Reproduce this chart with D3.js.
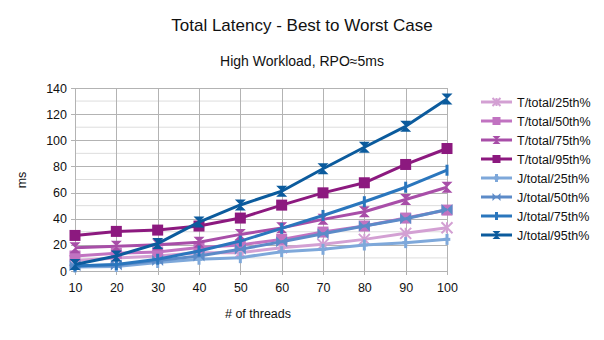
<!DOCTYPE html>
<html><head><meta charset="utf-8">
<script src="https://cdn.jsdelivr.net/npm/d3@7"></script>
<style>body{margin:0;background:#fff}svg{display:block;font-family:"Liberation Sans",Arial,sans-serif}</style>
</head><body><svg id="c" width="604" height="340"></svg>
<script>
const threads = [10,20,30,40,50,60,70,80,90,100];
const seriesNames = ["T/total/25th%","T/total/50th%","T/total/75th%","T/total/95th%","J/total/25th%","J/total/50th%","J/total/75th%","J/total/95th%"];
const t25 = [8,10,11.5,14,14,17.8,20.4,24.2,28.8,33.1];
const t50 = [11.5,13.5,14.5,18,19.9,24.2,29.8,34.4,40.5,46.6];
const t75 = [17.8,19,20,22,28,33,39.5,45.3,54.7,64.1];
const t95 = [27.2,30.3,31.3,34.4,40.5,50.4,59.8,67.5,81.5,93.7];
const j25 = [3,3.5,6.5,9,10.2,14.8,16.6,19.9,21.7,24.2];
const j50 = [4,4.5,8,11.5,16.6,22.4,28.5,34.4,40,47];
const j75 = [3.8,5,9,15.3,22.9,32.6,42.5,53,64.1,77.1];
const j95 = [5,11.5,21,37.4,50.5,61,78.2,94.7,110.7,131.6];
const values = [t25,t50,t75,t95,j25,j50,j75,j95];
const yTicks = [0,20,40,60,80,100,120,140];

const colors = ["#d3a0d3","#c173c1","#a84ea8","#8c197f","#7ea8da","#5c8bc8","#2a76bd","#0b5b9d"];
const markers = ["asterisk","square","hourglass","square","plus","bowtie","vbar","hourglass"];

const svg = d3.select("#c");
const L=75,R=447,T=88,B=271;
const x = d3.scaleLinear().domain([10,100]).range([L,R]);
const y = d3.scaleLinear().domain([0,140]).range([B,T]);

// minor grid
const g = svg.append("g");
d3.range(10,140,20).forEach(v=>{
  g.append("line").attr("x1",L).attr("x2",R).attr("y1",y(v)).attr("y2",y(v)).attr("stroke","#dddddd").attr("stroke-width",1);
});
yTicks.forEach(v=>{
  g.append("line").attr("x1",L-4).attr("x2",R).attr("y1",Math.round(y(v))+0.5).attr("y2",Math.round(y(v))+0.5).attr("stroke","#b3b3b3").attr("stroke-width",1);
});
threads.forEach(v=>{
  g.append("line").attr("x1",Math.round(x(v))+0.5).attr("x2",Math.round(x(v))+0.5).attr("y1",T).attr("y2",B+4).attr("stroke","#b3b3b3").attr("stroke-width",1);
});

// axis labels
const yAxis = d3.axisLeft(y).tickValues(yTicks).tickSize(0).tickPadding(7);
const ya = svg.append("g").attr("transform",`translate(${L-1},0)`).call(yAxis);
ya.select(".domain").remove();
ya.selectAll("text").attr("font-size",12.5).attr("fill","#111").attr("font-family","Liberation Sans, Arial, sans-serif");
const xAxis = d3.axisBottom(x).tickValues(threads).tickSize(0).tickPadding(12);
const xa = svg.append("g").attr("transform",`translate(0,${B})`).call(xAxis);
xa.select(".domain").remove();
xa.selectAll("text").attr("font-size",12.5).attr("fill","#111").attr("font-family","Liberation Sans, Arial, sans-serif");

function marker(sel, type, color, cx, cy, s){
  const p = d3.path();
  if(type==="square"){
    sel.append("rect").attr("x",cx-s).attr("y",cy-s).attr("width",2*s).attr("height",2*s).attr("fill",color);
    return;
  }
  if(type==="hourglass"){
    p.moveTo(cx-s,cy-s);p.lineTo(cx+s,cy-s);p.lineTo(cx-s,cy+s);p.lineTo(cx+s,cy+s);p.closePath();
    sel.append("path").attr("d",p.toString()).attr("fill",color);return;
  }
  if(type==="bowtie"){
    p.moveTo(cx-s,cy-s);p.lineTo(cx-s,cy+s);p.lineTo(cx+s,cy-s);p.lineTo(cx+s,cy+s);p.closePath();
    sel.append("path").attr("d",p.toString()).attr("fill",color);return;
  }
  if(type==="vbar"){
    sel.append("rect").attr("x",cx-1.5).attr("y",cy-s).attr("width",3).attr("height",2*s).attr("fill",color);return;
  }
  if(type==="plus"){
    sel.append("rect").attr("x",cx-1.5).attr("y",cy-s).attr("width",3).attr("height",2*s).attr("fill",color);
    sel.append("rect").attr("x",cx-s*0.6).attr("y",cy-1.5).attr("width",s*1.2).attr("height",3).attr("fill",color);return;
  }
  if(type==="asterisk"){
    p.moveTo(cx-s,cy-s);p.lineTo(cx+s,cy+s);p.moveTo(cx+s,cy-s);p.lineTo(cx-s,cy+s);p.moveTo(cx,cy-s);p.lineTo(cx,cy+s);
    sel.append("path").attr("d",p.toString()).attr("stroke",color).attr("stroke-width",2).attr("fill","none");return;
  }
}

const line = d3.line().x((d,i)=>x(threads[i])).y(d=>y(d));
const plot = svg.append("g");
values.forEach((vals,k)=>{
  const sg = plot.append("g");
  sg.append("path").attr("d",line(vals)).attr("fill","none").attr("stroke",colors[k]).attr("stroke-width",3).attr("stroke-linejoin","round");
  vals.forEach((v,i)=>marker(sg,markers[k],colors[k],x(threads[i]),y(v),5.5));
});

// legend
const lg = svg.append("g");
seriesNames.forEach((n,k)=>{
  const yy = 102 + k*19;
  lg.append("line").attr("x1",481).attr("x2",512).attr("y1",yy).attr("y2",yy).attr("stroke",colors[k]).attr("stroke-width",3);
  marker(lg,markers[k],colors[k],496.5,yy,4);
  lg.append("text").attr("x",517).attr("y",yy).attr("dy","0.36em").attr("font-size",12.5).attr("fill","#111").text(n);
});

// titles
svg.append("text").attr("x",302).attr("y",31).attr("text-anchor","middle").attr("font-size",17).attr("fill","#111").text("Total Latency - Best to Worst Case");
svg.append("text").attr("x",302).attr("y",66).attr("text-anchor","middle").attr("font-size",14).attr("fill","#111").text("High Workload, RPO≈5ms");
svg.append("text").attr("transform","translate(26,180) rotate(-90)").attr("text-anchor","middle").attr("font-size",12.5).attr("fill","#111").text("ms");
svg.append("text").attr("x",258).attr("y",318).attr("text-anchor","middle").attr("font-size",12.5).attr("fill","#111").text("# of threads");
</script></body></html>
